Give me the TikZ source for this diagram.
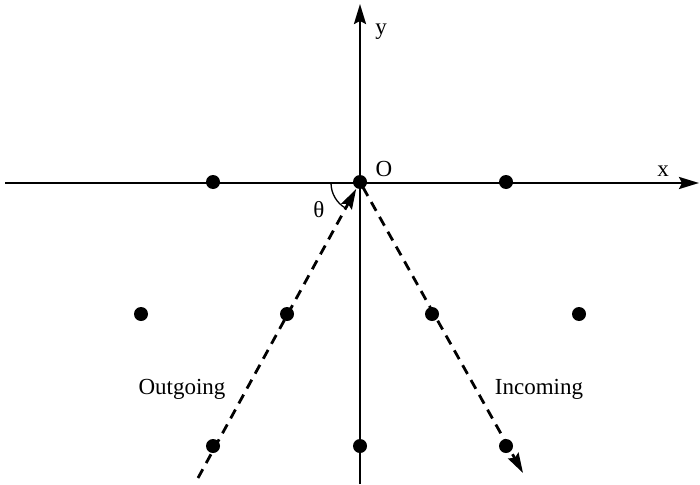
\documentclass[tikz,border=0pt]{standalone}
\usepackage{fontspec}
\setmainfont{Liberation Serif}
\usetikzlibrary{arrows.meta}
\begin{document}
\begin{tikzpicture}[x=1pt,y=-1pt,
  dot/.style={circle,fill=black,inner sep=0pt,minimum size=14pt},
  axis/.style={line width=2.4pt,-{Stealth[length=20pt,width=12pt,inset=3pt]}},
  ray/.style={line width=2.8pt,dash pattern=on 10pt off 7pt,-{Stealth[length=20pt,width=12pt,inset=3pt]}},
  lbl/.style={font=\fontsize{23}{25}\selectfont,inner sep=0pt}]
\useasboundingbox (0,0) rectangle (700,484);
% coordinates
\coordinate (xl) at (5,183);
\coordinate (xr) at (699,183);
\coordinate (yb) at (360,484);
\coordinate (yt) at (360,4);
\coordinate (os) at (198,478);
\coordinate (ie) at (523,473);
% axes
\draw[axis] (xl) -- (xr);
\draw[axis] (yb) -- (yt);
% dots
\node[dot] (O) at (360,182) {};
\node[dot] (d1) at (213,182) {};
\node[dot] (d2) at (506,182) {};
\node[dot] (d3) at (141,314) {};
\node[dot] (d4) at (287,314) {};
\node[dot] (d5) at (432,314) {};
\node[dot] (d6) at (579,314) {};
\node[dot] (d7) at (213,446) {};
\node[dot] (d8) at (360,446) {};
\node[dot] (d9) at (506,446) {};
% rays
\draw[ray] (os) -- (O.center) [shorten >=8pt];
\draw[ray] (O.center) -- (ie) [shorten <=6pt];
% angle arc
\draw[line width=1.3pt] (331,183) arc[start angle=180,end angle=119,radius=29];
% labels
\node[lbl] (lx) at (663,171) {x};
\node[lbl] (ly) at (381,32) {y};
\node[lbl] (lO) at (384,169) {O};
\node[lbl] (lt) at (319,210) {θ};
\node[lbl] (lout) at (182,389) {Outgoing};
\node[lbl] (lin) at (539,389) {Incoming};
\end{tikzpicture}
\end{document}
